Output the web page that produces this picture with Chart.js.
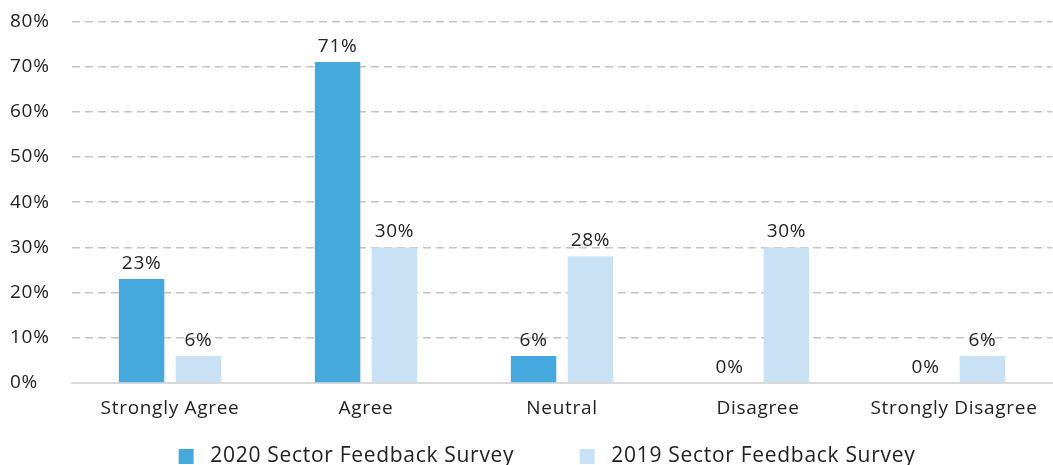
<!DOCTYPE html>
<html><head><meta charset="utf-8">
<script src="https://cdn.jsdelivr.net/npm/chart.js@4/dist/chart.umd.min.js"></script>
<style>html,body{margin:0;padding:0;background:#fff}#wrap{width:1053px;height:465px}</style>
</head><body><div id="wrap"><canvas id="c"></canvas></div>
<script>
const categories = ["Strongly Agree","Agree","Neutral","Disagree","Strongly Disagree"];
const series2020 = [23,71,6,0,0];
const series2019 = [6,30,28,30,6];
const seriesNames = ["2020 Sector Feedback Survey","2019 Sector Feedback Survey"];
const FONT = "'Open Sans', sans-serif";
const LS = '0.7px';

const spacingPlugin = {
  id:'spacing',
  beforeUpdate(chart){ chart.ctx.letterSpacing = LS; },
  beforeLayout(chart){ chart.ctx.letterSpacing = LS; },
  afterLayout(chart){
    if (chart.legend){ chart.legend.left += 16; chart.legend.right += 16; }
  },
  beforeDraw(chart){ chart.ctx.letterSpacing = LS; }
};

const labelPlugin = {
  id:'vals',
  afterDatasetsDraw(chart){
    const ctx=chart.ctx;
    ctx.save();
    ctx.letterSpacing = LS;
    ctx.font = "19px " + FONT;
    ctx.fillStyle="#222";
    ctx.textAlign="center";
    ctx.textBaseline="alphabetic";
    chart.data.datasets.forEach((ds,i)=>{
      const meta=chart.getDatasetMeta(i);
      meta.data.forEach((bar,j)=>{
        ctx.fillText(ds.data[j]+"%", bar.x, bar.y-10);
      });
    });
    ctx.restore();
  }
};

new Chart(document.getElementById('c'),{
  type:'bar',
  data:{labels:categories,datasets:[
    {label:seriesNames[0],data:series2020,backgroundColor:'#45A9DD'},
    {label:seriesNames[1],data:series2019,backgroundColor:'#C9E1F4'}
  ]},
  options:{
    responsive:true,maintainAspectRatio:false,animation:false,
    categoryPercentage:0.58,barPercentage:0.8,
    layout:{padding:{left:10,right:1,top:12,bottom:-12}},
    plugins:{
      legend:{position:'bottom',labels:{font:{family:FONT,size:21},color:'#222',boxWidth:15,boxHeight:15,padding:10,
        generateLabels(chart){
          const items = Chart.defaults.plugins.legend.labels.generateLabels(chart);
          items[0].text = ' ' + items[0].text + '         ';
          items[1].text = ' ' + items[1].text;
          return items;
        }}},
      tooltip:{enabled:false}
    },
    scales:{
      x:{
        grid:{display:false},
        border:{display:true,color:'#d9d9d9',width:2},
        ticks:{font:{family:FONT,size:19},color:'#222',padding:6},
        afterFit(s){s.height=53;}
      },
      y:{
        min:0,max:80,
        ticks:{stepSize:10,callback:v=>v+'%',font:{family:FONT,size:19},color:'#222',crossAlign:'far',padding:10},
        grid:{color:'#c4c4c4',lineWidth:1.5,drawTicks:false},
        border:{display:false,dash:[8,5]},
        afterFit(s){s.width=62;}
      }
    }
  },
  plugins:[spacingPlugin,labelPlugin]
});
</script></body></html>
